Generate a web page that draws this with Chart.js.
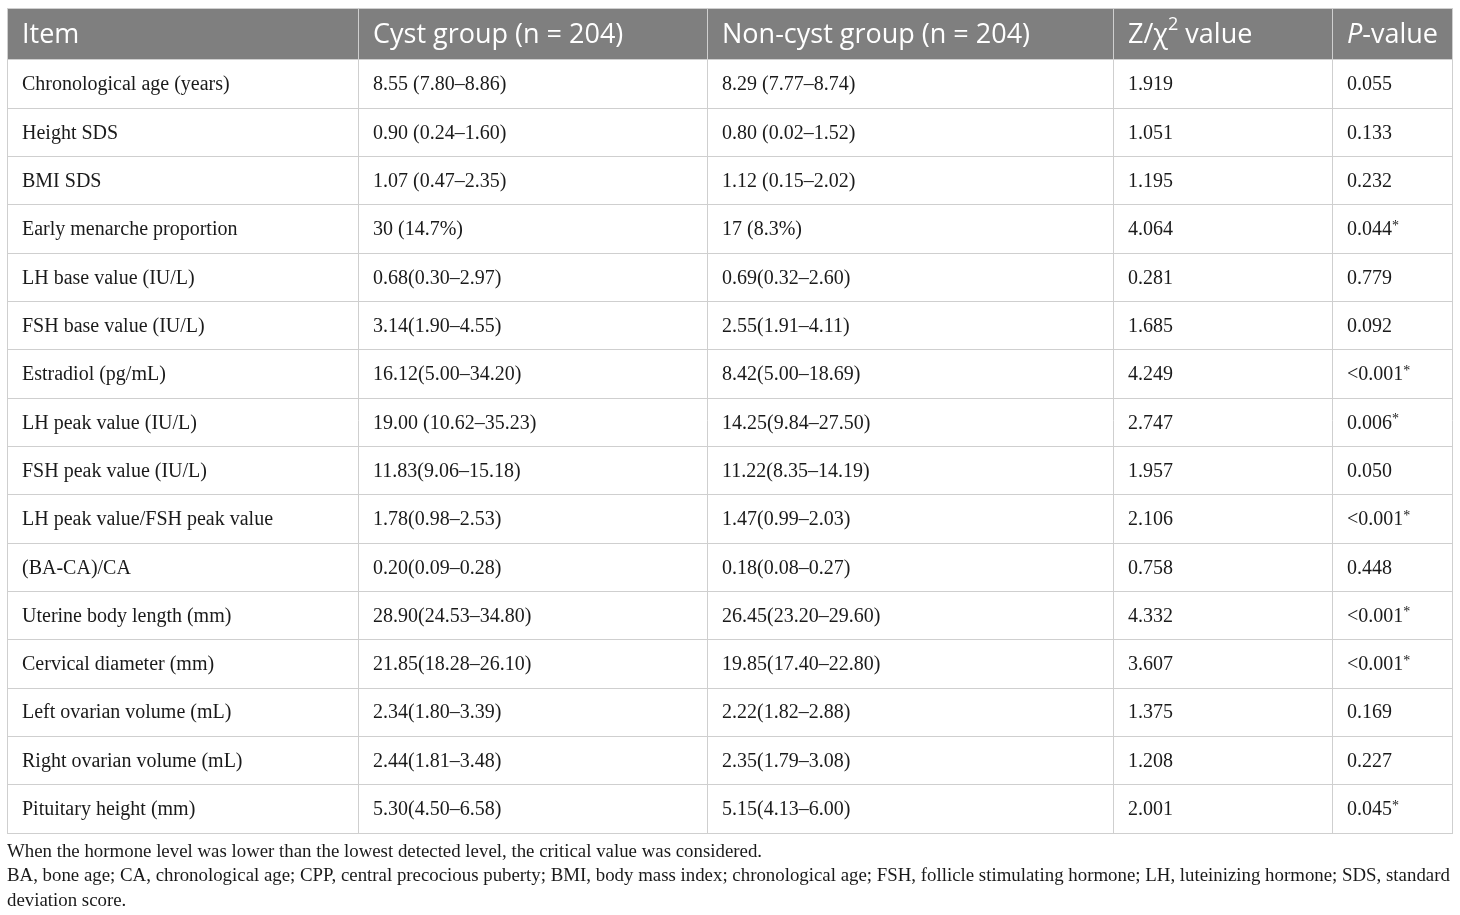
<!DOCTYPE html>
<html>
<head>
<meta charset="utf-8">
<title>Cyst vs non-cyst group</title>
<script src="https://cdn.jsdelivr.net/npm/chart.js@4/dist/chart.umd.min.js"></script>
<style>
  html, body { margin: 0; padding: 0; background: #fff; }
  #wrap { width: 1460px; height: 915px; }
</style>
</head>
<body>
<div id="wrap"><canvas id="table-chart"></canvas></div>
<script>
// table contents
const headers = ['Item', 'Cyst group (n = 204)', 'Non-cyst group (n = 204)', 'Z/χ2 value', 'P-value'];

const items = [
    'Chronological age (years)', 'Height SDS', 'BMI SDS', 'Early menarche proportion',
    'LH base value (IU/L)', 'FSH base value (IU/L)', 'Estradiol (pg/mL)', 'LH peak value (IU/L)',
    'FSH peak value (IU/L)', 'LH peak value/FSH peak value', '(BA-CA)/CA', 'Uterine body length (mm)',
    'Cervical diameter (mm)', 'Left ovarian volume (mL)', 'Right ovarian volume (mL)', 'Pituitary height (mm)'
];

const cystValues = [
    '8.55 (7.80–8.86)', '0.90 (0.24–1.60)', '1.07 (0.47–2.35)', '30 (14.7%)',
    '0.68(0.30–2.97)', '3.14(1.90–4.55)', '16.12(5.00–34.20)', '19.00 (10.62–35.23)',
    '11.83(9.06–15.18)', '1.78(0.98–2.53)', '0.20(0.09–0.28)', '28.90(24.53–34.80)',
    '21.85(18.28–26.10)', '2.34(1.80–3.39)', '2.44(1.81–3.48)', '5.30(4.50–6.58)'
];

const nonCystValues = [
    '8.29 (7.77–8.74)', '0.80 (0.02–1.52)', '1.12 (0.15–2.02)', '17 (8.3%)',
    '0.69(0.32–2.60)', '2.55(1.91–4.11)', '8.42(5.00–18.69)', '14.25(9.84–27.50)',
    '11.22(8.35–14.19)', '1.47(0.99–2.03)', '0.18(0.08–0.27)', '26.45(23.20–29.60)',
    '19.85(17.40–22.80)', '2.22(1.82–2.88)', '2.35(1.79–3.08)', '5.15(4.13–6.00)'
];

const statValues = [
    '1.919', '1.051', '1.195', '4.064', '0.281', '1.685', '4.249', '2.747',
    '1.957', '2.106', '0.758', '4.332', '3.607', '1.375', '1.208', '2.001'
];

const pValues = [
    '0.055', '0.133', '0.232', '0.044*', '0.779', '0.092', '<0.001*', '0.006*',
    '0.050', '<0.001*', '0.448', '<0.001*', '<0.001*', '0.169', '0.227', '0.045*'
];

const footnotes = [
    'When the hormone level was lower than the lowest detected level, the critical value was considered.',
    'BA, bone age; CA, chronological age; CPP, central precocious puberty; BMI, body mass index; chronological age; FSH, follicle stimulating hormone; LH, luteinizing hormone; SDS, standard',
    'deviation score.'
];

// layout (in scale units)
const colWidths = [351, 349, 406, 219, 120];
const headerHeight = 1.076;   // body row = 1

const colEdges = [0];
colWidths.forEach(w => colEdges.push(colEdges[colEdges.length - 1] + w));
const rowEdges = [0, headerHeight];
items.forEach(() => rowEdges.push(rowEdges[rowEdges.length - 1] + 1));

const columns = [items, cystValues, nonCystValues, statValues, pValues];

const HEAD_FONT = '27px "Open Sans", sans-serif';
const BODY_FONT = '20px "Liberation Serif", "Times New Roman", serif';
const NOTE_FONT = '18.85px "Liberation Serif", "Times New Roman", serif';
const GRID = '#cfcfcf';

// draw text with a raised small piece (for "χ2" and "*")
function drawWithSup(ctx, text, x, y, font, supFont, supChar, supRise) {
    const i = text.lastIndexOf(supChar);
    if (i < 0) { ctx.font = font; ctx.fillText(text, x, y); return; }
    const before = text.slice(0, i);
    const after = text.slice(i + 1);
    ctx.font = font;
    ctx.fillText(before, x, y);
    let cx = x + ctx.measureText(before).width;
    ctx.font = supFont;
    ctx.fillText(supChar, cx, y - supRise);
    cx += ctx.measureText(supChar).width;
    ctx.font = font;
    ctx.fillText(after, cx, y);
}

const tablePlugin = {
    id: 'tablePlugin',
    beforeDraw(chart) {
        const { ctx, scales: { x, y } } = chart;
        ctx.save();
        ctx.fillStyle = '#7f7f7f';
        const x0 = x.getPixelForValue(colEdges[0]);
        const x1 = x.getPixelForValue(colEdges[colEdges.length - 1]);
        const y0 = y.getPixelForValue(rowEdges[0]);
        const y1 = y.getPixelForValue(rowEdges[1]);
        ctx.fillRect(x0, y0, x1 - x0, y1 - y0);
        ctx.restore();
    },
    afterDraw(chart) {
        const { ctx, scales: { x, y }, chartArea } = chart;
        const pad = 15;
        ctx.save();
        ctx.textBaseline = 'middle';
        ctx.textAlign = 'left';

        // header
        ctx.fillStyle = '#ffffff';
        const hy = (y.getPixelForValue(rowEdges[0]) + y.getPixelForValue(rowEdges[1])) / 2 + 1;
        headers.forEach((h, c) => {
            const hx = x.getPixelForValue(colEdges[c]) + pad;
            if (h.startsWith('P-')) {
                ctx.font = 'italic ' + HEAD_FONT;
                ctx.fillText('P', hx, hy);
                const w = ctx.measureText('P').width;
                ctx.font = HEAD_FONT;
                ctx.fillText(h.slice(1), hx + w, hy);
            } else if (h.includes('χ2')) {
                drawWithSup(ctx, h, hx, hy, HEAD_FONT, '18px "Open Sans", sans-serif', '2', 10);
            } else {
                ctx.font = HEAD_FONT;
                ctx.fillText(h, hx, hy);
            }
        });

        // body
        ctx.fillStyle = '#1a1a1a';
        items.forEach((_, r) => {
            const cy = (y.getPixelForValue(rowEdges[r + 1]) + y.getPixelForValue(rowEdges[r + 2])) / 2 + 1;
            columns.forEach((col, c) => {
                const cx = x.getPixelForValue(colEdges[c]) + pad;
                drawWithSup(ctx, col[r], cx, cy, BODY_FONT, '14px "Liberation Serif", serif', '*', 4);
            });
        });

        // footnotes
        ctx.font = NOTE_FONT;
        ctx.fillStyle = '#1a1a1a';
        footnotes.forEach((line, i) => {
            ctx.fillText(line, chartArea.left, chartArea.bottom + 19 + i * 24.5);
        });
        ctx.restore();
    }
};

const gridOpts = { color: GRID, lineWidth: 1, drawTicks: false };

new Chart(document.getElementById('table-chart'), {
    type: 'scatter',
    data: { datasets: [{ data: [], pointRadius: 0 }] },
    options: {
        responsive: true,
        maintainAspectRatio: false,
        animation: false,
        events: [],
        layout: { padding: { left: 7, right: 8, top: 8, bottom: 82 } },
        plugins: { legend: { display: false }, tooltip: { enabled: false } },
        scales: {
            x: {
                type: 'linear',
                min: colEdges[0],
                max: colEdges[colEdges.length - 1],
                grid: gridOpts,
                border: { display: true, color: GRID },
                ticks: { display: false },
                afterBuildTicks: s => { s.ticks = colEdges.map(v => ({ value: v })); }
            },
            y: {
                type: 'linear',
                reverse: true,
                min: rowEdges[0],
                max: rowEdges[rowEdges.length - 1],
                grid: gridOpts,
                border: { display: true, color: GRID },
                ticks: { display: false },
                afterBuildTicks: s => { s.ticks = rowEdges.map(v => ({ value: v })); }
            }
        }
    },
    plugins: [tablePlugin]
});
</script>
</body>
</html>
